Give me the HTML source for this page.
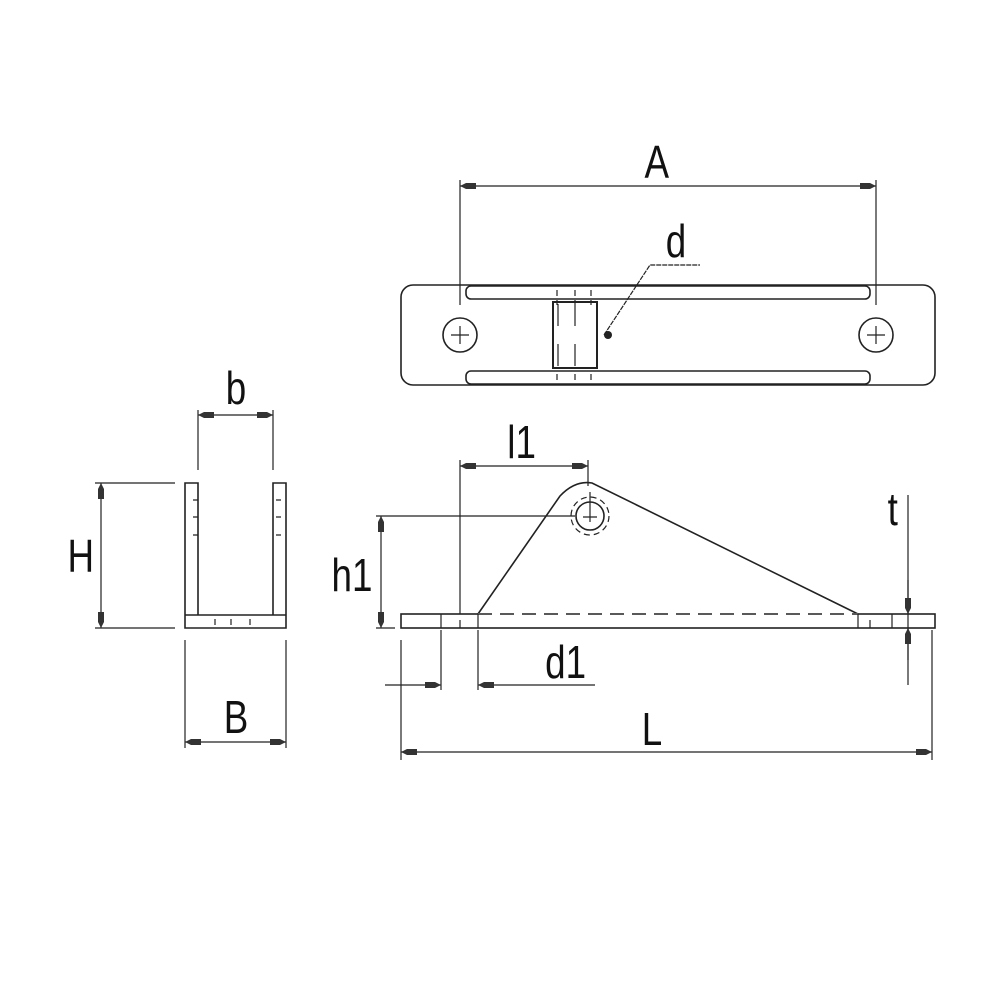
<!DOCTYPE html>
<html><head><style>html,body{margin:0;padding:0;background:#fff}svg{display:block}
text{font-family:"Liberation Sans Narrow","Liberation Sans",sans-serif;font-size:46px;fill:#111}</style></head>
<body>
<svg width="1000" height="1000" viewBox="0 0 1000 1000" xmlns="http://www.w3.org/2000/svg">
<defs>
<marker id="a" viewBox="0 0 16 8" refX="16" refY="4" markerWidth="16" markerHeight="8" markerUnits="userSpaceOnUse" orient="auto-start-reverse">
<path d="M0,1 L10,1 L16,4 L10,7 L0,7 Z" fill="#333"/></marker>
</defs>
<g fill="none" stroke="#222" stroke-width="1.6">
<rect x="401" y="285" width="534" height="100" rx="12"/>
<rect x="466" y="286" width="404" height="13" rx="5" fill="#fff"/>
<rect x="466" y="371" width="404" height="13" rx="5" fill="#fff"/>
<circle cx="460" cy="335" r="17"/><circle cx="876" cy="335" r="17"/>
<path d="M451,335h18M460,326v18M867,335h18M876,326v18" stroke-width="1.2"/>
<rect x="553" y="302" width="44" height="66" stroke-width="2"/>
<path d="M558,304v22M575,304v22M558,344v22M575,344v22M557,300v5M575,300v5M591,300v5M557,290v6M575,290v6M591,290v6M557,374v6M575,374v6M591,374v6" stroke-width="1.2"/>
<path d="M604,335L650,265H700" stroke-width="1.2" stroke-dasharray="5,1"/>
<circle cx="608" cy="335" r="4" fill="#222" stroke="none"/>
<line x1="460" y1="180" x2="460" y2="305" stroke-width="1.2"/>
<line x1="876" y1="180" x2="876" y2="305" stroke-width="1.2"/>
<line x1="460" y1="186" x2="876" y2="186" stroke-width="1.2" marker-start="url(#a)" marker-end="url(#a)"/>
<path d="M185,483h13v132h-13zM273,483h13v132h-13zM185,615h101v13h-101z"/>
<path d="M193,500h5M193,517h5M193,535h5M276,500h5M276,517h5M276,535h5M215,619v6M231,619v6M250,619v6" stroke-width="1.2"/>
<line x1="198" y1="410" x2="198" y2="470" stroke-width="1.2"/>
<line x1="273" y1="410" x2="273" y2="470" stroke-width="1.2"/>
<line x1="198" y1="415" x2="273" y2="415" stroke-width="1.2" marker-start="url(#a)" marker-end="url(#a)"/>
<path d="M95,483h80M95,628h80" stroke-width="1.2"/>
<line x1="101" y1="483" x2="101" y2="628" stroke-width="1.2" marker-start="url(#a)" marker-end="url(#a)"/>
<path d="M185,640v108M286,640v108" stroke-width="1.2"/>
<line x1="185" y1="742" x2="286" y2="742" stroke-width="1.2" marker-start="url(#a)" marker-end="url(#a)"/>
<rect x="401" y="614" width="534" height="14"/>
<path d="M478,614L560,496Q575,480 592,483L858,614"/>
<line x1="478" y1="614" x2="858" y2="614" stroke="#fff" stroke-width="2"/>
<line x1="478" y1="614" x2="858" y2="614" stroke-dasharray="14,8"/>
<path d="M441,614v14M478,614v14M858,614v14M892,614v14M460,620v8M870,620v8" stroke-width="1.2"/>
<circle cx="590" cy="516" r="14"/>
<circle cx="590" cy="516" r="19" stroke-dasharray="6,4" stroke-width="1.2"/>
<path d="M590,492v30M583,517h14" stroke-width="1.2"/>
<line x1="460" y1="460" x2="460" y2="614" stroke-width="1.2"/>
<line x1="588" y1="460" x2="588" y2="486" stroke-width="1.2"/>
<line x1="460" y1="466" x2="588" y2="466" stroke-width="1.2" marker-start="url(#a)" marker-end="url(#a)"/>
<path d="M376,516H575M376,628H395" stroke-width="1.2"/>
<line x1="381" y1="516" x2="381" y2="628" stroke-width="1.2" marker-start="url(#a)" marker-end="url(#a)"/>
<path d="M401,640v120M441,630v60M478,630v60M932,630v130" stroke-width="1.2"/>
<line x1="385" y1="685" x2="441" y2="685" stroke-width="1.2" marker-end="url(#a)"/>
<line x1="595" y1="685" x2="478" y2="685" stroke-width="1.2" marker-end="url(#a)"/>
<line x1="908" y1="495" x2="908" y2="685" stroke-width="1.2"/>
<line x1="908" y1="580" x2="908" y2="614" stroke-width="1.2" marker-end="url(#a)"/>
<line x1="908" y1="660" x2="908" y2="628" stroke-width="1.2" marker-end="url(#a)"/>
<line x1="401" y1="752" x2="932" y2="752" stroke-width="1.2" marker-start="url(#a)" marker-end="url(#a)"/>
</g>
<g transform="scale(0.8,1)">
<text x="821" y="178" text-anchor="middle">A</text>
<text x="845" y="257" text-anchor="middle">d</text>
<text x="295" y="404" text-anchor="middle">b</text>
<text x="101" y="572" text-anchor="middle">H</text>
<text x="295" y="733" text-anchor="middle">B</text>
<text x="652" y="458" text-anchor="middle">l1</text>
<text x="440" y="591" text-anchor="middle">h1</text>
<text x="707" y="678" text-anchor="middle">d1</text>
<text x="1116" y="525" text-anchor="middle">t</text>
<text x="815" y="745" text-anchor="middle">L</text>
</g>
</svg>
</body></html>
